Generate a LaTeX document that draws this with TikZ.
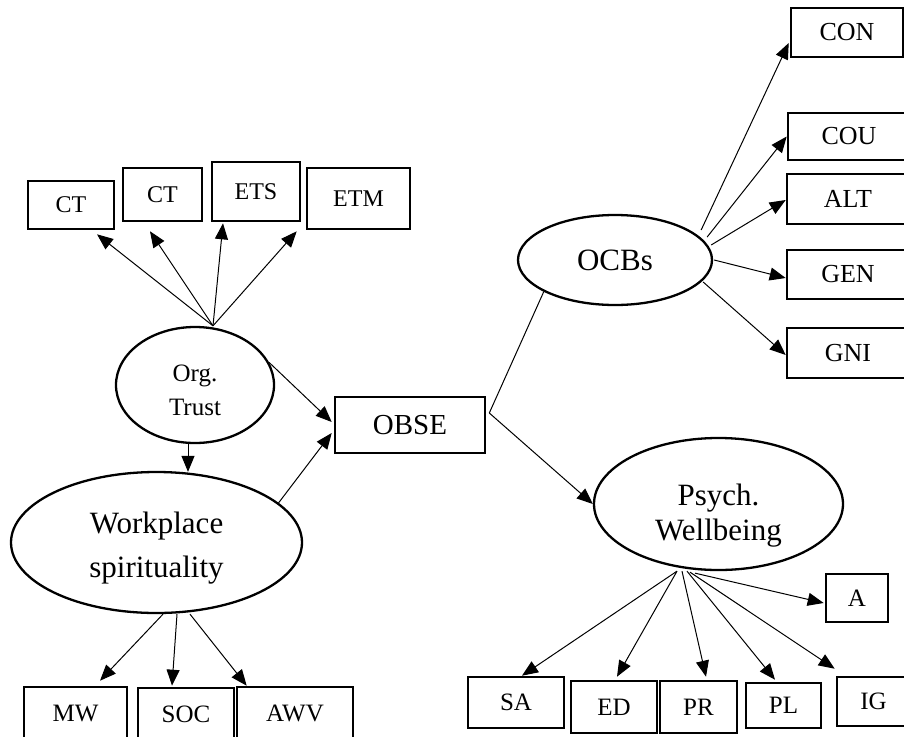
\documentclass[tikz,border=0pt]{standalone}
\usepackage{fontspec}
\setmainfont{Liberation Serif}
\usetikzlibrary{arrows.meta,calc,shapes.geometric}

\begin{document}
\begin{tikzpicture}[x=1pt,y=-1pt,
  box/.style={draw,line width=2.6pt,inner sep=0pt,font=\fontsize{24}{28}\selectfont},
  latent/.style={draw,ellipse,line width=2.3pt,inner sep=0pt},
  arr/.style={-{Triangle[length=16pt,width=13pt]},line width=1pt},
  link/.style={line width=1pt}]
\useasboundingbox (0,0) rectangle (904,736);
% latent variables
\node[latent,minimum width=158pt,minimum height=116pt] (trust) at (195,385) {};
\node[align=center,font=\fontsize{25}{34}\selectfont] (trusttxt) at ($(trust)+(0,5)$) {Org.\\Trust};
\node[latent,minimum width=291pt,minimum height=141pt] (work) at (156.5,542.5) {};
\node[align=center,font=\fontsize{31}{44}\selectfont] (worktxt) at ($(work)+(0,6)$) {Workplace\\spirituality};
\node[latent,minimum width=194pt,minimum height=90pt,font=\fontsize{31}{36}\selectfont] (ocb) at (615,260) {OCBs};
\node[latent,minimum width=249pt,minimum height=132pt] (psy) at (718.5,504) {};
\node[align=center,font=\fontsize{31}{35}\selectfont] (psytxt) at ($(psy)+(0,12)$) {Psych.\\Wellbeing};
\node[box,minimum width=150pt,minimum height=56pt,font=\fontsize{29}{34}\selectfont] (obse) at (410,425) {OBSE};
% trust items
\node[box,minimum width=86pt,minimum height=48pt] (ct1) at (71,205) {CT};
\node[box,minimum width=79pt,minimum height=53pt] (ct2) at (162.5,194.5) {CT};
\node[box,minimum width=88pt,minimum height=59pt] (ets) at (256,191.5) {ETS};
\node[box,minimum width=103pt,minimum height=61pt] (etm) at (358.5,198.5) {ETM};
% spirituality items
\node[box,minimum width=103pt,minimum height=52pt,font=\fontsize{25}{30}\selectfont] (mw) at (75.5,713) {MW};
\node[box,minimum width=96pt,minimum height=52pt,font=\fontsize{25}{30}\selectfont] (soc) at (186,714) {SOC};
\node[box,minimum width=116pt,minimum height=52pt,font=\fontsize{25}{30}\selectfont] (awv) at (295,713) {AWV};
% OCB items
\node[box,minimum width=112pt,minimum height=49pt,font=\fontsize{26}{30}\selectfont] (con) at (847,32.5) {CON};
\node[box,minimum width=122pt,minimum height=47pt,font=\fontsize{26}{30}\selectfont] (cou) at (849,136.5) {COU};
\node[box,minimum width=122pt,minimum height=50pt,font=\fontsize{26}{30}\selectfont] (alt) at (848,199) {ALT};
\node[box,minimum width=122pt,minimum height=49pt,font=\fontsize{26}{30}\selectfont] (gen) at (848,274.5) {GEN};
\node[box,minimum width=122pt,minimum height=50pt,font=\fontsize{26}{30}\selectfont] (gni) at (848,353) {GNI};
% wellbeing items
\node[box,minimum width=62pt,minimum height=48pt,font=\fontsize{25}{30}\selectfont] (a) at (857,598) {A};
\node[box,minimum width=96pt,minimum height=51pt,font=\fontsize{25}{30}\selectfont] (sa) at (516,702.5) {SA};
\node[box,minimum width=86pt,minimum height=52pt,font=\fontsize{25}{30}\selectfont] (ed) at (614,707) {ED};
\node[box,minimum width=77pt,minimum height=52pt,font=\fontsize{25}{30}\selectfont] (pr) at (698.5,707) {PR};
\node[box,minimum width=75pt,minimum height=45pt,font=\fontsize{25}{30}\selectfont] (pl) at (783.5,705.5) {PL};
\node[box,minimum width=73pt,minimum height=49pt,font=\fontsize{25}{30}\selectfont] (ig) at (873.5,701.5) {IG};
% paths
\draw[arr] ($(trust.north)+(18,0)$) -- ($(ct1.south)+(26,4)$);
\draw[arr] ($(trust.north)+(18,0)$) -- ($(ct2.south)+(-12.5,9)$);
\draw[arr] ($(trust.north)+(18,0)$) -- ($(ets.south)+(-33,1)$);
\draw[arr] ($(trust.north)+(18,0)$) -- ($(etm.south west)+(-9,1)$);
\draw[arr] (trust.17) -- ($(obse.west)+(-2,-3)$);
\draw[arr] ($(trust.south)+(-7,0)$) -- ($(work.north)+(31.5,1)$);
\draw[arr] (work.18) -- ($(obse.west)+(-2,8)$);
\draw[arr] ($(work.south)+(6.5,0)$) -- ($(mw.north)+(24.5,-5)$);
\draw[arr] ($(work.south)+(20.5,0)$) -- ($(soc.north)+(-14,-1)$);
\draw[arr] ($(work.south)+(33.5,0)$) -- ($(awv.north west)+(11,0)$);
\draw[link] ($(obse.east)+(3,-12)$) -- (ocb.204);
\draw[arr] ($(obse.east)+(3,-12)$) -- (psy.west);
\draw[arr] ($(ocb.east)+(-12,-30)$) -- ($(con.west)+(-1,10.5)$);
\draw[arr] ($(ocb.east)+(-6,-23)$) -- (cou.west);
\draw[arr] ($(ocb.east)+(-2,-15)$) -- ($(alt.west)+(0,1)$);
\draw[arr] ($(ocb.east)+(1,0)$) -- ($(gen.west)+(0,3.5)$);
\draw[arr] ($(ocb.east)+(-10,22)$) -- ($(gni.west)+(0,2)$);
\draw[arr] ($(psy.south)+(-41.5,0)$) -- ($(sa.north)+(6,0)$);
\draw[arr] ($(psy.south)+(-41.5,0)$) -- ($(ed.north)+(3,-3)$);
\draw[arr] ($(psy.south)+(-36.5,0)$) -- ($(pr.north)+(7.5,-3)$);
\draw[arr] ($(psy.south)+(-31.5,0)$) -- ($(pl.north)+(-8.5,-2)$);
\draw[arr] ($(psy.south)+(-28.5,1)$) -- ($(ig.north west)+(-1,-7)$);
\draw[arr] ($(psy.south)+(-23.5,2)$) -- ($(a.west)+(-1,5)$);
\end{tikzpicture}
\end{document}
